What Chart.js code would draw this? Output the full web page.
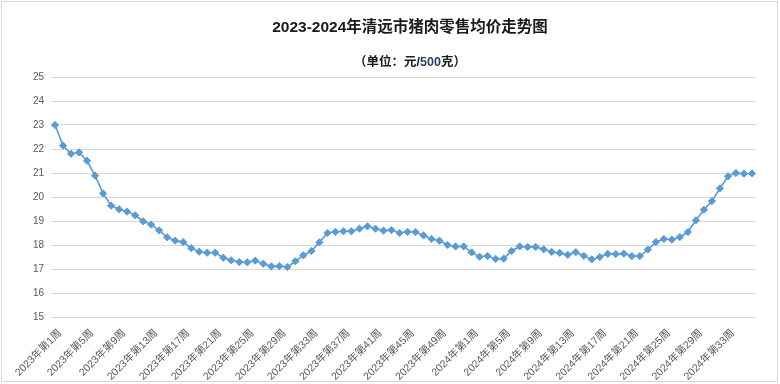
<!DOCTYPE html>
<html>
<head>
<meta charset="utf-8">
<script src="https://cdn.jsdelivr.net/npm/chart.js@4/dist/chart.umd.min.js"></script>
<style>
html,body{margin:0;padding:0;background:#fff;}
#wrap{width:780px;height:384px;position:relative;}
</style>
</head>
<body>
<div id="wrap"><canvas id="c" width="780" height="384"></canvas></div>
<script>
const titleText = "2023-2024年清远市猪肉零售均价走势图";
const subtitleParts = ["（单位：元/", "500", "克）"];
const years = ["2023", "2024"];
const weeksPerYear = [52, 36];
const yTicks = [15, 16, 17, 18, 19, 20, 21, 22, 23, 24, 25];

const price2023 = [
  23.00, 22.14, 21.80, 21.86, 21.51, 20.89, 20.15, 19.64, 19.49, 19.39,
  19.24, 18.99, 18.85, 18.61, 18.32, 18.18, 18.12, 17.87, 17.72, 17.68,
  17.68, 17.47, 17.36, 17.29, 17.28, 17.35, 17.22, 17.11, 17.12, 17.08,
  17.32, 17.57, 17.75, 18.11, 18.50, 18.55, 18.57, 18.57, 18.68, 18.78,
  18.68, 18.60, 18.62, 18.50, 18.55, 18.54, 18.40, 18.25, 18.18, 18.00,
  17.94, 17.94
];
const price2024 = [
  17.69, 17.51, 17.54, 17.42, 17.43, 17.75, 17.94, 17.92, 17.92, 17.82,
  17.71, 17.67, 17.59, 17.70, 17.55, 17.40, 17.50, 17.63, 17.62, 17.64,
  17.54, 17.54, 17.81, 18.12, 18.25, 18.22, 18.33, 18.54, 19.03, 19.47,
  19.83, 20.36, 20.86, 21.00, 20.97, 20.98
];

const categories = [];
years.forEach((y, yi) => {
  for (let w = 1; w <= weeksPerYear[yi]; w++) categories.push(y + "年第" + w + "周");
});
const values = price2023.concat(price2024);

const LATIN_CJK = '"Liberation Sans", "Noto Sans CJK SC", sans-serif';

const decor = {
  id: 'decor',
  beforeDraw(chart) {
    const ctx = chart.ctx;
    ctx.save();
    ctx.fillStyle = '#ffffff';
    ctx.fillRect(0, 0, 780, 384);
    ctx.strokeStyle = '#d9d9d9';
    ctx.lineWidth = 1;
    ctx.strokeRect(1.5, 1.5, 776, 380);
    ctx.restore();
  },
  afterDraw(chart) {
    const ctx = chart.ctx;
    ctx.save();
    ctx.textBaseline = 'middle';
    ctx.fillStyle = '#1a1a1a';
    ctx.font = 'bold 15.5px ' + LATIN_CJK;
    ctx.textAlign = 'center';
    ctx.fillText(titleText, 410, 28);
    ctx.font = 'bold 12.5px ' + LATIN_CJK;
    const widths = subtitleParts.map(s => ctx.measureText(s).width);
    const total = widths.reduce((a, b) => a + b, 0);
    let x = 410 - total / 2;
    ctx.textAlign = 'left';
    const colors = ['#1a1a1a', '#2a3f6a', '#1a1a1a'];
    subtitleParts.forEach((s, i) => {
      ctx.fillStyle = colors[i];
      ctx.fillText(s, x, 63);
      x += widths[i];
    });
    ctx.restore();
  }
};

new Chart(document.getElementById('c'), {
  type: 'line',
  data: {
    labels: categories,
    datasets: [{
      data: values,
      borderColor: '#5b9bd5',
      backgroundColor: '#5b9bd5',
      borderWidth: 1.6,
      pointStyle: 'rectRot',
      pointRadius: 3.6,
      pointBorderWidth: 1,
      pointBorderColor: '#5b9bd5',
      pointBackgroundColor: '#5b9bd5',
      tension: 0,
      fill: false
    }]
  },
  options: {
    responsive: false,
    animation: false,
    devicePixelRatio: 1,
    layout: { padding: { left: 0, right: 24, top: 77, bottom: 0 } },
    plugins: {
      legend: { display: false },
      title: { display: false },
      tooltip: { enabled: false }
    },
    scales: {
      x: {
        offset: true,
        grid: { display: false, drawTicks: false },
        border: { display: false },
        ticks: {
          autoSkip: false,
          maxRotation: 45,
          minRotation: 45,
          padding: 10,
          labelOffset: 5,
          color: '#595959',
          font: { size: 10.5, family: LATIN_CJK },
          callback: function (v, i) { return i % 4 === 0 ? categories[i] : ''; }
        },
        afterFit(scale) { scale.height = 67; }
      },
      y: {
        min: 15,
        max: 25,
        afterBuildTicks(scale) { scale.ticks = yTicks.map(v => ({ value: v })); },
        grid: { color: '#d9d9d9', lineWidth: 1, drawTicks: false },
        border: { display: false },
        ticks: {
          padding: 7,
          color: '#595959',
          font: { size: 10, family: LATIN_CJK }
        },
        afterFit(scale) { scale.width = 51; }
      }
    }
  },
  plugins: [decor]
});
</script>
</body>
</html>
